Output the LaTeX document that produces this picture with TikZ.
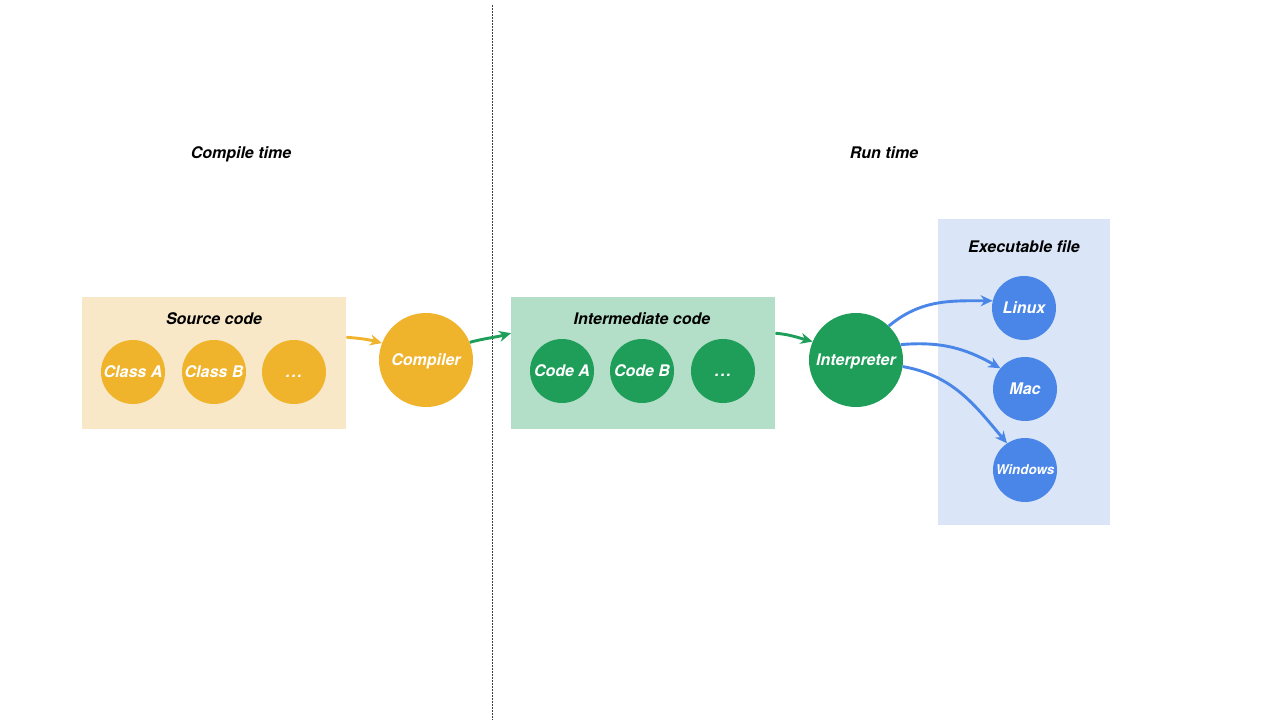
\documentclass[tikz,border=0pt]{standalone}
\usepackage{fontspec}
\setmainfont{TeX Gyre Heros}
\usetikzlibrary{arrows.meta}
\definecolor{orangec}{HTML}{F0B32C}
\definecolor{orangebg}{HTML}{F8E8C8}
\definecolor{greenc}{HTML}{1F9E5A}
\definecolor{greenbg}{HTML}{B3DFC8}
\definecolor{bluec}{HTML}{4A86E8}
\definecolor{bluebg}{HTML}{DAE5F7}
\tikzset{
  lbl/.style={font=\fontsize{16}{19}\selectfont\bfseries\itshape, anchor=base, inner sep=0pt},
  group/.style={inner sep=0pt, anchor=north west},
  ball/.style={circle, inner sep=0pt, minimum size=64pt, text=white, text height=11.5pt, text depth=0pt, font=\fontsize{16}{19}\selectfont\bfseries\itshape},
  bigball/.style={ball, minimum size=94pt},
  conn/.style={line width=2.9pt, -{Stealth[length=12pt,width=11pt]}},
}
\newcommand{\dotsx}{.\kern1.5pt.\kern1.5pt.}
\begin{document}
\begin{tikzpicture}[x=1pt,y=-1pt]
\useasboundingbox (0,0) rectangle (1280,720);
\fill[white] (0,0) rectangle (1280,720);
% divider
\coordinate (dtop) at (492,5);
\coordinate (dbot) at (492,720);
\draw[line width=1pt, dash pattern=on 1.5pt off 1.5pt, black!75] (dtop) -- (dbot);
% phase labels
\node[lbl] (ct) at (241,158) {Compile time};
\node[lbl] (rt) at (884,158) {Run time};
% boxes
\node[group, fill=orangebg, minimum width=264pt, minimum height=132pt] (src) at (82,297) {};
\node[lbl] (srct) at (214,324) {Source code};
\node[group, fill=greenbg, minimum width=264pt, minimum height=132pt] (mid) at (511,297) {};
\node[lbl] (midt) at (642,324) {Intermediate code};
\node[group, fill=bluebg, minimum width=172pt, minimum height=306pt] (exe) at (938,219) {};
\node[lbl] (exet) at (1024,252) {Executable file};
% circles
\node[ball, fill=orangec] (ca) at (133,372) {Class A};
\node[ball, fill=orangec] (cb) at (214,372) {Class B};
\node[ball, fill=orangec] (cd) at (294,372) {\dotsx};
\node[bigball, fill=orangec] (comp) at (426,360) {Compiler};
\node[ball, fill=greenc] (ka) at (562,371) {Code A};
\node[ball, fill=greenc] (kb) at (642,371) {Code B};
\node[ball, fill=greenc] (kd) at (723,371) {\dotsx};
\node[bigball, fill=greenc] (interp) at (856,360) {Interpreter};
\node[ball, fill=bluec] (linux) at (1024,308) {Linux};
\node[ball, fill=bluec] (mac) at (1025,389) {Mac};
\node[ball, fill=bluec, text height=9.6pt, font=\fontsize{13.4}{16}\selectfont\bfseries\itshape] (win) at (1025,470) {Windows};
% connectors
\draw[conn, orangec] ([yshift=26pt]src.east) to[out=-5, in=165] (comp.159);
\draw[conn, greenc] (comp.22) to[out=15, in=195] ([yshift=30pt]mid.west);
\draw[conn, greenc] ([yshift=30pt]mid.east) to[out=-5, in=165] (interp.157);
\draw[conn, bluec] (interp.46) to[out=40, in=180] (linux.167);
\draw[conn, bluec] (interp.19) to[out=5, in=150] (mac.140);
\draw[conn, bluec] (interp.-8) to[out=-10, in=130] (win.124);
\end{tikzpicture}
\end{document}
